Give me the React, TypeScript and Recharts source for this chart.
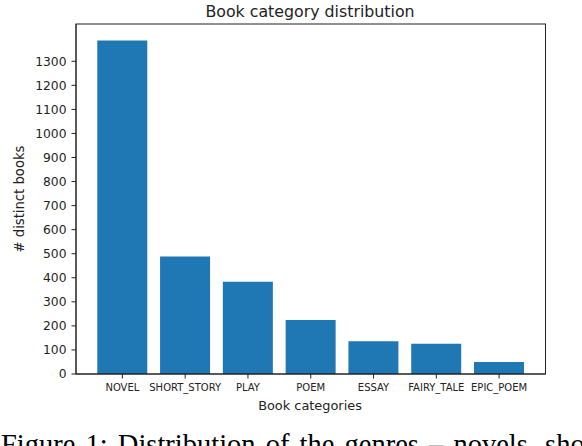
import React from 'react';
import { BarChart, Bar, XAxis, YAxis } from 'recharts';

const categories = ['NOVEL', 'SHORT_STORY', 'PLAY', 'POEM', 'ESSAY', 'FAIRY_TALE', 'EPIC_POEM'];
const bookCounts = [1386, 488, 383, 224, 136, 126, 50];
const yTicks = [0, 100, 200, 300, 400, 500, 600, 700, 800, 900, 1000, 1100, 1200, 1300];

const data = categories.map((category, i) => ({ category, books: bookCounts[i] }));

const FONT = '"DejaVu Sans", sans-serif';
const INK = '#222';

// plot frame (matplotlib spines)
const PLOT = { left: 76, top: 24, right: 545.5, bottom: 374 };

const App: React.FC = () => {
  return (
    <div style={{ position: 'fixed', left: 0, top: 0, width: 582, height: 446, overflow: 'hidden', background: '#fff' }}>
      <BarChart
        width={582}
        height={446}
        data={data}
        margin={{ top: PLOT.top, right: 582 - PLOT.right, left: 0, bottom: 0 }}
        barCategoryGap="10%"
      >
        <XAxis
          dataKey="category"
          height={446 - PLOT.bottom}
          padding={{ left: 15, right: 15 }}
          tickSize={4.5}
          tickMargin={5.5}
          interval={0}
          axisLine={{ stroke: INK, strokeWidth: 1 }}
          tickLine={{ stroke: INK }}
          tick={{ fill: INK, fontSize: 10, fontFamily: FONT }}
        />
        <YAxis
          width={PLOT.left}
          domain={[0, 1455]}
          ticks={yTicks}
          allowDataOverflow
          tickSize={4.5}
          tickMargin={5}
          axisLine={{ stroke: INK, strokeWidth: 1 }}
          tickLine={{ stroke: INK }}
          tick={{ fill: INK, fontSize: 12.3, fontFamily: FONT }}
        />
        <Bar dataKey="books" fill="#1f77b4" isAnimationActive={false} />
      </BarChart>
      <svg width={582} height={446} style={{ position: 'absolute', left: 0, top: 0, pointerEvents: 'none' }}>
        <rect
          x={PLOT.left}
          y={PLOT.top}
          width={PLOT.right - PLOT.left}
          height={PLOT.bottom - PLOT.top}
          fill="none"
          stroke={INK}
          strokeWidth={1}
        />
        <text x={310} y={17} textAnchor="middle" fontFamily={FONT} fontSize={15.8} fill={INK}>
          Book category distribution
        </text>
        <text x={310} y={409.5} textAnchor="middle" fontFamily={FONT} fontSize={12.9} fill={INK}>
          Book categories
        </text>
        <text
          x={23.5}
          y={199}
          textAnchor="middle"
          transform="rotate(-90 23.5 199)"
          fontFamily={FONT}
          fontSize={13.2}
          fill={INK}
        >
          # distinct books
        </text>
        <text x={1} y={453.5} fontFamily='"Liberation Serif", serif' fontSize={28.5} fill="#000" wordSpacing={3}>
          Figure 1:  Distribution of the genres – novels, short stories
        </text>
      </svg>
    </div>
  );
};

export default App;
